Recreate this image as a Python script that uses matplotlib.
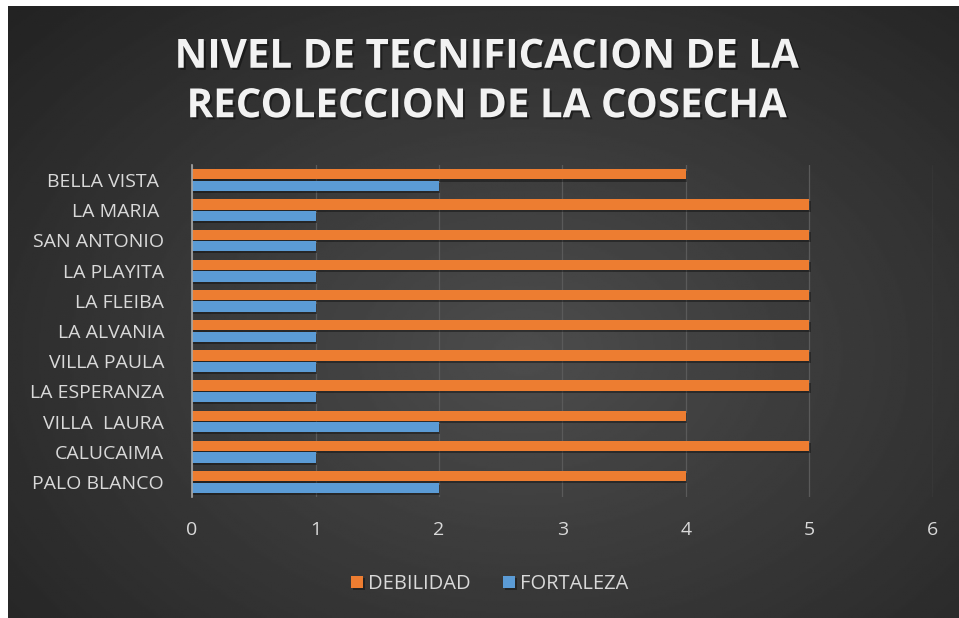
import matplotlib
matplotlib.use("Agg")
import matplotlib.pyplot as plt
import matplotlib.patheffects as pe
import numpy as np

categories = ["BELLA VISTA ", "LA MARIA ", "SAN ANTONIO", "LA PLAYITA", "LA FLEIBA",
              "LA ALVANIA", "VILLA PAULA", "LA ESPERANZA", "VILLA  LAURA", "CALUCAIMA",
              "PALO BLANCO"]
debilidad = [4, 5, 5, 5, 5, 5, 5, 5, 4, 5, 4]
fortaleza = [2, 1, 1, 1, 1, 1, 1, 1, 2, 1, 2]
x_ticks = [0, 1, 2, 3, 4, 5, 6]
title = "NIVEL DE TECNIFICACION DE LA\nRECOLECCION DE LA COSECHA"

ORANGE = "#ed7d31"
BLUE = "#5b9bd5"
TEXT = "#d9d9d9"

W, H = 959, 618
fig = plt.figure(figsize=(W / 100, H / 100), dpi=100)
fig.patch.set_facecolor("white")

# dark radial background, leaves a thin white strip top/left like the screenshot
bg = fig.add_axes([8 / W, 0, 1 - 8 / W, 1 - 6 / H])
yy, xx = np.mgrid[0:300, 0:480]
r = np.sqrt(((xx - 260) / 480) ** 2 + ((yy - 170) / 330) ** 2)
shade = np.clip(0.30 - 0.22 * r, 0.14, 0.30)
bg.imshow(shade, cmap="gray", vmin=0, vmax=1, aspect="auto", extent=[0, 1, 0, 1])
bg.set_axis_off()

fig.text(487 / W, 1 - 82 / H, title, ha="center", va="center", color="#f2f2f2",
         fontsize=29, fontweight="bold", family="Open Sans", linespacing=1.35,
         path_effects=[pe.withSimplePatchShadow(offset=(1.5, -1.5), shadow_rgbFace="black", alpha=0.4)])

ax = fig.add_axes([192 / W, 1 - 497 / H, (933 - 192) / W, (497 - 165) / H])
ax.set_facecolor("none")
n = len(categories)
pos = np.arange(n)[::-1]
h = 0.34
shadow = [pe.SimplePatchShadow(offset=(1, -1.5), shadow_rgbFace="black", alpha=0.35), pe.Normal()]
ax.barh(pos + h / 2 + 0.02, debilidad, height=h, color=ORANGE, label="DEBILIDAD",
        path_effects=shadow, zorder=3)
ax.barh(pos - h / 2 - 0.02, fortaleza, height=h, color=BLUE, label="FORTALEZA",
        path_effects=shadow, zorder=3)

ax.set_xlim(0, 6)
ax.set_ylim(-0.5, n - 0.5)
ax.set_xticks(x_ticks)
ax.set_yticks(pos)
ax.set_yticklabels(categories, family="Open Sans", fontsize=14, color=TEXT)
for lab in ax.get_xticklabels():
    lab.set_family("Open Sans")
ax.tick_params(axis="x", colors=TEXT, labelsize=14, length=0, pad=17)
ax.tick_params(axis="y", length=0, pad=20)
ax.grid(axis="x", color="#5a5a5a", linewidth=0.9, zorder=0)
for s in ["top", "right", "bottom"]:
    ax.spines[s].set_visible(False)
ax.spines["left"].set_color("#a6a6a6")
ax.spines["left"].set_linewidth(1.2)
ax.spines["left"].set_zorder(4)

fig.legend(loc="center", bbox_to_anchor=(490 / W, 1 - 584 / H), ncol=2, frameon=False,
           handlelength=0.6, handleheight=0.6, handletextpad=0.25, columnspacing=1.6,
           prop={"family": "Open Sans", "size": 14.5}, labelcolor=TEXT)

fig.savefig("out.png", dpi=100, facecolor=fig.get_facecolor())
